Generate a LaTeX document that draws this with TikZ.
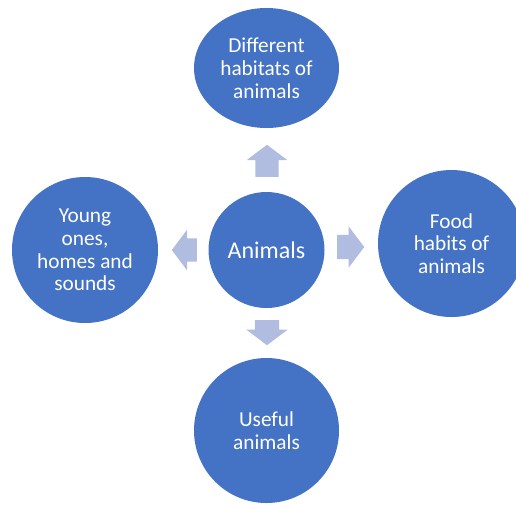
\documentclass[tikz,border=0pt]{standalone}
\usepackage{fontspec}
\setmainfont{Carlito}
\usepackage{tikz}
\usetikzlibrary{shapes,arrows.meta}
\definecolor{topicblue}{HTML}{4472C4}
\definecolor{arrowblue}{HTML}{B0BCE0}
\tikzset{
  topic/.style={circle, fill=topicblue, text=white, align=center, inner sep=0pt,
                font=\fontsize{21.3}{22.8}\selectfont},
  blockarr/.style={single arrow, fill=arrowblue, inner sep=0pt,
                   single arrow head extend=8.5pt, single arrow tip angle=106}
}
\newcommand{\topicnode}[4] {\node at (#1) (#2) [topic, minimum size=#3] {#4};}
\newcommand{\blockarrow}[5] {\node at (#1) (#2) [blockarr, anchor=tail, minimum height=#3, rotate=#4] {\rule{0pt}{#5}};}

\begin{document}
\begin{tikzpicture}[x=1pt, y=-1pt]
\clip (0,0) rectangle (516,504);
\useasboundingbox (0,0) rectangle (516,504);

\node at (266.5,250) (animals) [topic, minimum size=116pt, font=\fontsize{24}{26}\selectfont] {Animals};
\node at (266.5,68) (habitats) [topic, ellipse, minimum width=145pt, minimum height=120pt] {Different\\habitats of\\animals};
\topicnode {85,250} {young} {146pt} {Young\\ones,\\homes and\\sounds};
\topicnode {451.5,243.5} {food} {147pt} {Food\\habits of\\animals};
\topicnode {266.5,430.5} {useful} {145pt} {Useful\\animals};

\blockarrow {267,177} {toup} {32pt} {90} {23pt};
\blockarrow {197,250} {toleft} {25pt} {180} {23pt};
\blockarrow {337,247} {toright} {27pt} {0} {24pt};
\blockarrow {267,320} {todown} {25pt} {270} {24pt};
%\blockarrow {266.5,190} {toup} {30pt} {90} {23pt};

\end{tikzpicture}
\end{document}
